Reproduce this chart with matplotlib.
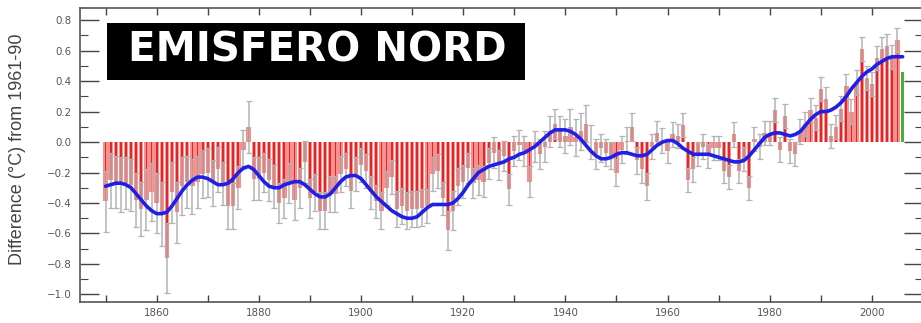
import matplotlib
matplotlib.use("Agg")
import matplotlib.pyplot as plt
from matplotlib.patches import Rectangle
from matplotlib.ticker import MultipleLocator, FixedLocator
import numpy as np

years = list(range(1850, 2007))

anomaly = [
    -0.39, -0.25, -0.26, -0.28, -0.27, -0.28, -0.38, -0.44, -0.38, -0.33,
    -0.40, -0.47, -0.76, -0.33, -0.46, -0.29, -0.26, -0.29, -0.26, -0.21,
    -0.20, -0.27, -0.18, -0.27, -0.42, -0.42, -0.30, -0.05, 0.10, -0.24,
    -0.24, -0.20, -0.25, -0.29, -0.40, -0.37, -0.27, -0.38, -0.30, -0.13,
    -0.37, -0.33, -0.45, -0.45, -0.34, -0.34, -0.21, -0.18, -0.32, -0.21,
    -0.15, -0.19, -0.33, -0.39, -0.45, -0.30, -0.23, -0.44, -0.42, -0.45,
    -0.44, -0.44, -0.43, -0.42, -0.21, -0.19, -0.37, -0.58, -0.45, -0.29,
    -0.26, -0.17, -0.27, -0.25, -0.26, -0.14, -0.07, -0.15, -0.09, -0.31,
    -0.06, -0.02, -0.06, -0.26, -0.03, -0.08, -0.03, 0.07, 0.12, 0.07,
    0.04, 0.10, 0.03, 0.07, 0.12, 0.00, -0.08, -0.04, -0.07, -0.09,
    -0.20, -0.05, 0.01, 0.10, -0.12, -0.18, -0.29, -0.03, 0.06, 0.01,
    -0.06, 0.05, 0.04, 0.11, -0.25, -0.18, -0.08, -0.03, -0.09, -0.04,
    -0.04, -0.19, -0.23, 0.05, -0.19, -0.11, -0.30, 0.02, -0.03, 0.06,
    0.06, 0.21, -0.05, 0.17, -0.06, -0.08, 0.07, 0.12, 0.21, 0.16,
    0.35, 0.28, 0.04, 0.10, 0.22, 0.37, 0.20, 0.39, 0.61, 0.42,
    0.38, 0.55, 0.61, 0.63, 0.56, 0.67, 0.46,
]

uncertainty = [
    0.20, 0.18, 0.17, 0.18, 0.17, 0.17, 0.18, 0.18, 0.20, 0.19,
    0.20, 0.21, 0.23, 0.20, 0.20, 0.19, 0.17, 0.18, 0.17, 0.16,
    0.16, 0.15, 0.15, 0.14, 0.15, 0.15, 0.14, 0.13, 0.17, 0.14,
    0.14, 0.13, 0.14, 0.14, 0.13, 0.13, 0.13, 0.13, 0.13, 0.14,
    0.13, 0.12, 0.12, 0.12, 0.12, 0.12, 0.12, 0.11, 0.11, 0.11,
    0.11, 0.11, 0.11, 0.11, 0.12, 0.11, 0.11, 0.12, 0.12, 0.12,
    0.12, 0.12, 0.12, 0.11, 0.11, 0.11, 0.11, 0.13, 0.13, 0.12,
    0.11, 0.10, 0.10, 0.10, 0.10, 0.10, 0.10, 0.10, 0.10, 0.10,
    0.10, 0.10, 0.10, 0.10, 0.10, 0.10, 0.10, 0.10, 0.10, 0.10,
    0.11, 0.12, 0.12, 0.12, 0.12, 0.11, 0.10, 0.09, 0.09, 0.09,
    0.09, 0.09, 0.09, 0.09, 0.09, 0.09, 0.09, 0.08, 0.08, 0.08,
    0.08, 0.08, 0.08, 0.08, 0.08, 0.08, 0.08, 0.08, 0.08, 0.08,
    0.08, 0.08, 0.08, 0.08, 0.08, 0.08, 0.08, 0.08, 0.08, 0.08,
    0.08, 0.08, 0.08, 0.08, 0.08, 0.08, 0.08, 0.08, 0.08, 0.08,
    0.08, 0.08, 0.08, 0.08, 0.08, 0.08, 0.08, 0.08, 0.08, 0.08,
    0.08, 0.08, 0.08, 0.08, 0.08, 0.08, 0.00,
]

smoothed = [
    -0.29, -0.28, -0.27, -0.27, -0.28, -0.30, -0.34, -0.38, -0.42, -0.45,
    -0.47, -0.47, -0.46, -0.42, -0.37, -0.32, -0.28, -0.25, -0.23, -0.23,
    -0.24, -0.26, -0.28, -0.28, -0.27, -0.24, -0.20, -0.17, -0.16, -0.18,
    -0.22, -0.26, -0.29, -0.30, -0.30, -0.28, -0.27, -0.26, -0.26, -0.28,
    -0.31, -0.34, -0.36, -0.36, -0.34, -0.30, -0.26, -0.23, -0.22, -0.22,
    -0.24, -0.28, -0.32, -0.36, -0.39, -0.42, -0.45, -0.47, -0.49, -0.50,
    -0.50, -0.49, -0.46, -0.43, -0.41, -0.41, -0.41, -0.41, -0.40, -0.37,
    -0.33, -0.28, -0.24, -0.20, -0.18, -0.16, -0.15, -0.14, -0.13, -0.11,
    -0.10, -0.08, -0.07, -0.05, -0.03, 0.00, 0.03, 0.06, 0.08, 0.08,
    0.08, 0.07, 0.05, 0.02, -0.02, -0.06, -0.09, -0.11, -0.11, -0.10,
    -0.08, -0.07, -0.07, -0.08, -0.09, -0.09, -0.08, -0.05, -0.02, 0.00,
    0.01, 0.01, -0.01, -0.04, -0.06, -0.08, -0.08, -0.08, -0.08, -0.09,
    -0.10, -0.11, -0.12, -0.13, -0.13, -0.12, -0.09, -0.05, -0.01, 0.03,
    0.05, 0.06, 0.06, 0.05, 0.04, 0.05, 0.07, 0.11, 0.15, 0.18,
    0.20, 0.20, 0.21, 0.23, 0.26, 0.30, 0.35, 0.39, 0.43, 0.46,
    0.48, 0.51, 0.53, 0.55, 0.56, 0.56, 0.56,
]

title_text = "EMISFERO NORD"
y_label = "Difference (\u00b0C) from 1961-90"
x_major = [1860, 1880, 1900, 1920, 1940, 1960, 1980, 2000]
y_major = [0.8, 0.6, 0.4, 0.2, 0.0, -0.2, -0.4, -0.6, -0.8, -1.0]

fig = plt.figure(figsize=(9.21, 3.23), dpi=100)
fig.patch.set_facecolor("white")
ax = fig.add_axes([80 / 921, 1 - 302 / 323, 843 / 921, (302 - 8) / 323])

yrs = np.array(years)
vals = np.array(anomaly)
errs = np.array(uncertainty)

main = yrs < 2006
ax.bar(yrs[main], vals[main], width=0.85, color="#f99090", edgecolor="none", zorder=1)
ax.bar(yrs[main], vals[main], width=0.35, color="#e02828", edgecolor="none", zorder=2)
ax.bar(yrs[~main], vals[~main], width=0.5, color="#4caf3a", edgecolor="none", zorder=2)

ax.errorbar(yrs[main], vals[main], yerr=errs[main], fmt="none", ecolor="#b4b4b4",
            elinewidth=1.1, capsize=2.4, capthick=0.9, zorder=3)

ax.plot(yrs, smoothed, color="#1f1fe6", lw=2.6, zorder=4, solid_capstyle="round")

ax.set_xlim(1845, 2010)
ax.set_ylim(-1.05, 0.88)

ax.xaxis.set_major_locator(FixedLocator(x_major))
ax.xaxis.set_minor_locator(MultipleLocator(10))
ax.yaxis.set_major_locator(FixedLocator(y_major))
ax.yaxis.set_minor_locator(MultipleLocator(0.1))
ax.set_yticklabels([f"{v:.1f}".replace("-", "\u2212") for v in y_major])

ax.tick_params(axis="both", which="both", direction="in", top=True, right=True,
               colors="#444444", labelcolor="#555555", labelsize=7.4)
ax.tick_params(axis="y", which="major", length=14, width=1.0, pad=6)
ax.tick_params(axis="y", which="minor", length=6, width=0.8)
ax.tick_params(axis="x", which="major", length=5, width=1.0, pad=4)
ax.tick_params(axis="x", which="minor", length=5, width=1.0)

for s in ax.spines.values():
    s.set_color("#555555")
    s.set_linewidth(1.2)

fig.text(18 / 921, 1 - 149 / 323, y_label, rotation=90, ha="center", va="center",
         fontsize=13, color="#444444", family="Liberation Sans")

fig.patches.append(Rectangle((107 / 921, 1 - 80 / 323), (525 - 107) / 921, (80 - 23) / 323,
                             transform=fig.transFigure, facecolor="black", edgecolor="none",
                             zorder=10))
fig.text(317 / 921, 1 - 50 / 323, title_text, ha="center", va="center", color="white",
         fontsize=29, fontweight="bold", family="DejaVu Sans", zorder=11)

fig.savefig("out.png", dpi=100)
